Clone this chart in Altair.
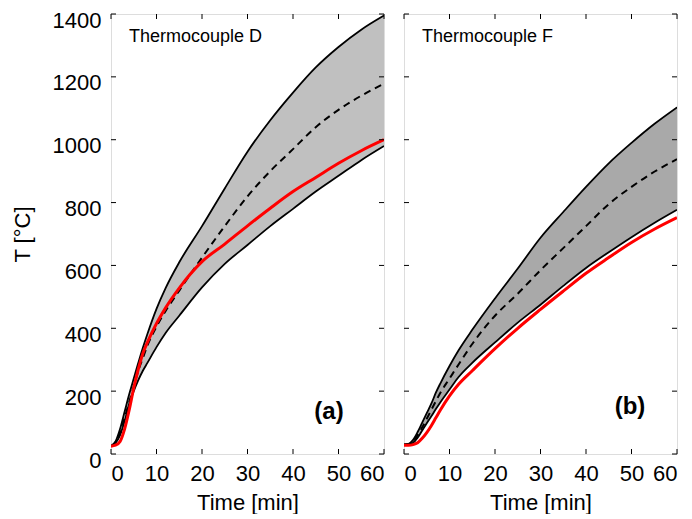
import altair as alt
import pandas as pd

# ---------------- data ----------------
TIME = [0, 1, 2, 3, 4, 5, 6, 7, 8, 10, 12, 15, 20, 25, 30, 35, 40, 45, 50, 55, 60]

# Thermocouple D (a)
A_UPPER = [25, 40, 80, 135, 190, 240, 290, 338, 382, 462, 528, 610, 725, 845, 962, 1062, 1150, 1230, 1295, 1350, 1395]
A_LOWER = [25, 35, 60, 105, 160, 200, 235, 265, 290, 340, 385, 440, 530, 605, 665, 725, 780, 835, 885, 935, 980]
A_MEAN = [25, 38, 70, 115, 165, 215, 265, 305, 345, 405, 455, 520, 625, 725, 820, 900, 970, 1040, 1095, 1140, 1178]
A_MEAS = [25, 28, 40, 80, 140, 210, 270, 320, 355, 415, 465, 528, 612, 668, 726, 782, 835, 880, 925, 965, 1000]

# Thermocouple F (b)
B_UPPER = [30, 32, 45, 70, 100, 130, 160, 195, 225, 280, 330, 395, 495, 590, 688, 770, 850, 925, 990, 1050, 1103]
B_LOWER = [30, 31, 36, 52, 75, 98, 120, 143, 165, 205, 245, 290, 355, 418, 475, 535, 592, 642, 690, 735, 777]
B_MEAN = [30, 31, 40, 60, 85, 112, 140, 168, 195, 240, 285, 350, 440, 510, 585, 655, 725, 795, 850, 898, 938]
B_MEAS = [28, 28, 30, 36, 50, 68, 90, 115, 140, 185, 222, 265, 335, 400, 460, 518, 575, 625, 673, 715, 752]

XTICKS = [0, 10, 20, 30, 40, 50, 60]
YTICKS = [0, 200, 400, 600, 800, 1000, 1200, 1400]

LABELS = ["Thermocouple D", "Thermocouple F"]
TAGS = ["(a)", "(b)"]

# ---------------- style ----------------
W, H = 273, 440
FONT = "Liberation Sans"
XSCALE = alt.Scale(domain=[0, 60], nice=False, zero=False)
YSCALE = alt.Scale(domain=[0, 1400], nice=False, zero=False)

X_AXIS = alt.Axis(values=XTICKS, title="Time [min]", labelFontSize=22, titleFontSize=22,
                  labelFont=FONT, titleFont=FONT, labelColor="black", titleColor="black",
                  titleFontWeight="normal", ticks=False, domain=False, grid=False,
                  labelPadding=9, titlePadding=8, labelFlush=7, format="d")
Y_AXIS = alt.Axis(values=YTICKS, title="T [°C]", labelFontSize=22, titleFontSize=22,
                  labelFont=FONT, titleFont=FONT, labelColor="black", titleColor="black",
                  titleFontWeight="normal", ticks=False, domain=False, grid=False,
                  labelPadding=10, titlePadding=18, labelFlush=False, labelOffset=6, format="d")


def xenc(field):
    return alt.X(field, type="quantitative", scale=XSCALE, axis=X_AXIS)


def yenc(field, show):
    return alt.Y(field, type="quantitative", scale=YSCALE, axis=Y_AXIS if show else None)


def panel(upper, lower, mean, meas, fill, label, tag, tag_x, tag_y, show_y):
    df = pd.DataFrame({"t": TIME, "upper": upper, "lower": lower, "mean": mean, "meas": meas})
    base = alt.Chart(df)
    band = base.mark_area(color=fill, opacity=1, clip=True, interpolate="monotone").encode(
        x=xenc("t"), y=yenc("lower", show_y), y2="upper")
    up = base.mark_line(color="black", strokeWidth=1.8, clip=True, interpolate="monotone").encode(
        x=xenc("t"), y=yenc("upper", show_y))
    lo = base.mark_line(color="black", strokeWidth=1.8, clip=True, interpolate="monotone").encode(
        x=xenc("t"), y=yenc("lower", show_y))
    mn = base.mark_line(color="black", strokeWidth=2, strokeDash=[7, 5], clip=True,
                        interpolate="monotone").encode(
        x=xenc("t"), y=yenc("mean", show_y))
    ms = base.mark_line(color="#ff0000", strokeWidth=3, clip=True, interpolate="monotone").encode(
        x=xenc("t"), y=yenc("meas", show_y))

    xt = alt.Chart(pd.DataFrame({"t": XTICKS}))
    yt = alt.Chart(pd.DataFrame({"v": YTICKS}))
    tb = xt.mark_rule(color="black", strokeWidth=1).encode(
        x=xenc("t"), y=alt.value(H), y2=alt.value(H - 5))
    tt = xt.mark_rule(color="black", strokeWidth=1).encode(
        x=xenc("t"), y=alt.value(0), y2=alt.value(5))
    tl = yt.mark_rule(color="black", strokeWidth=1).encode(
        y=yenc("v", show_y), x=alt.value(0), x2=alt.value(5))
    tr = yt.mark_rule(color="black", strokeWidth=1).encode(
        y=yenc("v", show_y), x=alt.value(W - 5), x2=alt.value(W))

    name = alt.Chart(pd.DataFrame({"s": [label]})).mark_text(
        align="left", baseline="alphabetic", fontSize=18, font=FONT, color="black").encode(
        text="s:N", x=alt.value(18), y=alt.value(28))
    tg = alt.Chart(pd.DataFrame({"s": [tag]})).mark_text(
        align="center", baseline="middle", fontSize=24, font=FONT, fontWeight="bold", color="black").encode(
        text="s:N", x=alt.value(tag_x), y=alt.value(tag_y))

    return alt.layer(band, up, lo, mn, ms, tb, tt, tl, tr, name, tg).properties(width=W, height=H)


pa = panel(A_UPPER, A_LOWER, A_MEAN, A_MEAS, "#c0c0c0", LABELS[0], TAGS[0], 218, 398, True)
pb = panel(B_UPPER, B_LOWER, B_MEAN, B_MEAS, "#a9a9a9", LABELS[1], TAGS[1], 226, 393, False)

chart = alt.hconcat(pa, pb, spacing=18).properties(
    padding={"left": 2, "top": 0, "right": 0, "bottom": 0}
).configure_view(stroke="black", strokeWidth=1.5).configure(background="white")

chart.save("out.html", embed_options={"renderer": "svg", "actions": False})
